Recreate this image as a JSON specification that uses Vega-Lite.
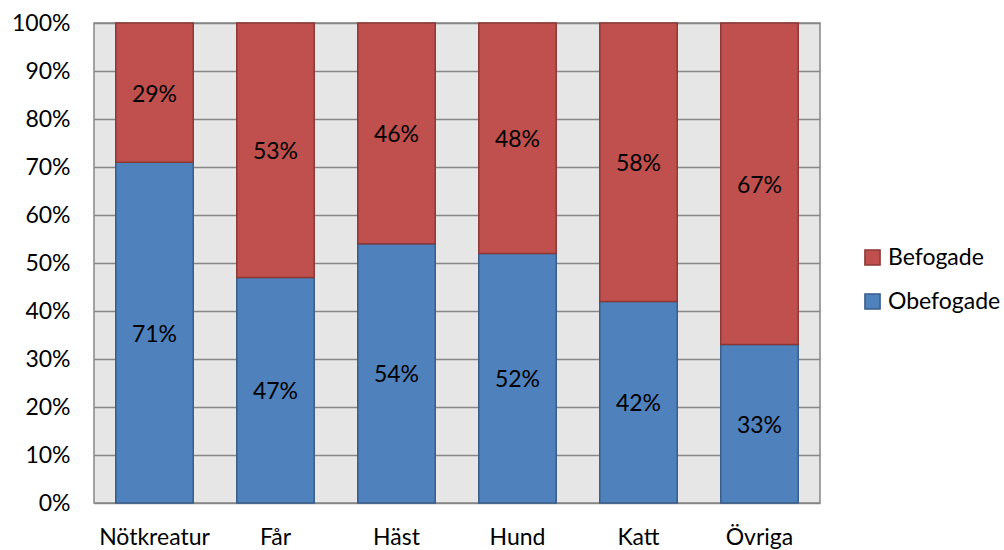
{
  "$schema": "https://vega.github.io/schema/vega-lite/v6.json",
  "width": 726,
  "height": 480,
  "autosize": "none",
  "padding": {"left": 94, "top": 23, "right": 184, "bottom": 47},
  "background": "white",
  "config": {
    "font": "Lato",
    "view": {"fill": "#e6e6e6", "stroke": "#868686", "strokeWidth": 1.5}
  },
  "data": {
    "values": [
      {"art": "Nötkreatur", "typ": "Obefogade", "andel": 0.71},
      {"art": "Nötkreatur", "typ": "Befogade", "andel": 0.29},
      {"art": "Får", "typ": "Obefogade", "andel": 0.47},
      {"art": "Får", "typ": "Befogade", "andel": 0.53},
      {"art": "Häst", "typ": "Obefogade", "andel": 0.54},
      {"art": "Häst", "typ": "Befogade", "andel": 0.46},
      {"art": "Hund", "typ": "Obefogade", "andel": 0.52},
      {"art": "Hund", "typ": "Befogade", "andel": 0.48},
      {"art": "Katt", "typ": "Obefogade", "andel": 0.42},
      {"art": "Katt", "typ": "Befogade", "andel": 0.58},
      {"art": "Övriga", "typ": "Obefogade", "andel": 0.33},
      {"art": "Övriga", "typ": "Befogade", "andel": 0.67}
    ]
  },
  "transform": [
    {"calculate": "datum.typ === 'Obefogade' ? 0 : 1", "as": "ord"},
    {"stack": "andel", "groupby": ["art"], "sort": [{"field": "ord"}], "as": ["y0", "y1"]},
    {"calculate": "(datum.y0 + datum.y1) / 2", "as": "mid"}
  ],
  "encoding": {
    "x": {
      "field": "art",
      "type": "nominal",
      "sort": ["Nötkreatur", "Får", "Häst", "Hund", "Katt", "Övriga"],
      "scale": {"paddingInner": 0.36, "paddingOuter": 0.18},
      "axis": {
        "title": null,
        "labelAngle": 0,
        "labelFontSize": 23,
        "labelColor": "#000000",
        "labelPadding": 23,
        "ticks": false,
        "domain": false
      }
    }
  },
  "layer": [
    {
      "mark": {"type": "bar", "strokeWidth": 1.5},
      "encoding": {
        "y": {
          "field": "y0",
          "type": "quantitative",
          "scale": {"domain": [0, 1], "nice": false},
          "axis": {
            "title": null,
            "format": ".0%",
            "values": [0, 0.1, 0.2, 0.3, 0.4, 0.5, 0.6, 0.7, 0.8, 0.9, 1],
            "labelFontSize": 23,
            "labelColor": "#000000",
            "labelPadding": 24,
            "ticks": false,
            "domain": false,
            "gridColor": "#868686",
            "gridWidth": 1.5,
            "gridOpacity": 1
          }
        },
        "y2": {"field": "y1"},
        "color": {
          "field": "typ",
          "type": "nominal",
          "scale": {"domain": ["Befogade", "Obefogade"], "range": ["#C0504D", "#4F81BD"]},
          "legend": {
            "title": null,
            "orient": "none",
            "legendX": 767,
            "legendY": 223,
            "symbolType": "square",
            "symbolSize": 230,
            "symbolStrokeWidth": 1.5,
            "labelFontSize": 23,
            "labelColor": "#000000",
            "labelOffset": 4,
            "rowPadding": 20
          }
        },
        "stroke": {
          "field": "typ",
          "type": "nominal",
          "scale": {"domain": ["Befogade", "Obefogade"], "range": ["#8C3836", "#385D8A"]},
          "legend": null
        }
      }
    },
    {
      "mark": {"type": "text", "fontSize": 23, "color": "#000000", "dy": 2},
      "encoding": {
        "y": {"field": "mid", "type": "quantitative"},
        "text": {"field": "andel", "type": "quantitative", "format": ".0%"}
      }
    }
  ]
}
